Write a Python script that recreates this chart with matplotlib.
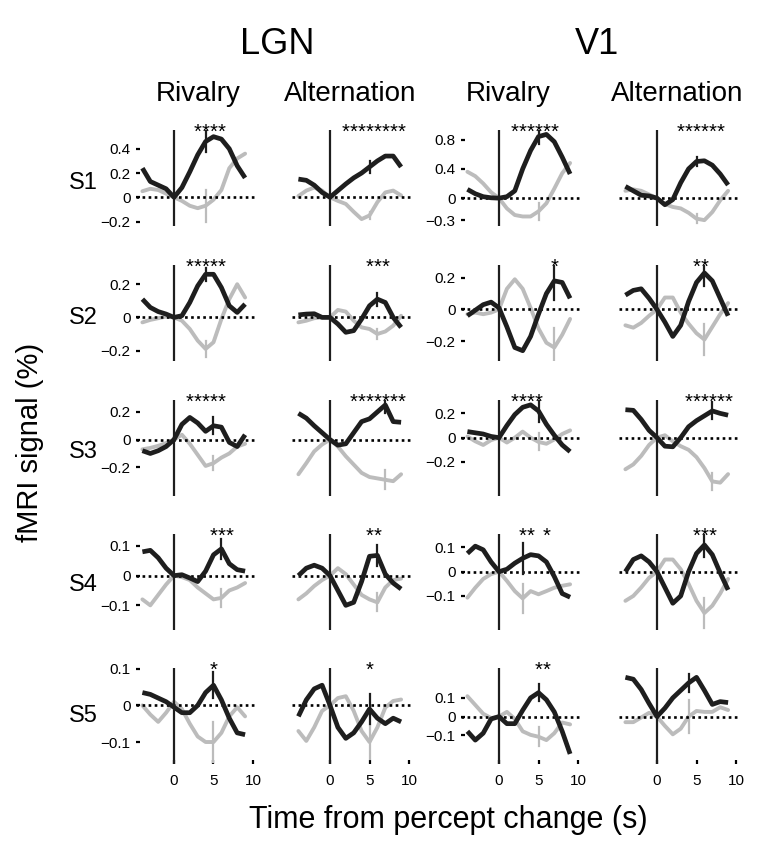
import numpy as np
import matplotlib
matplotlib.use('Agg')
import matplotlib.pyplot as plt

plt.rcParams['font.family'] = ['Liberation Sans', 'DejaVu Sans']

# ---------------- data ----------------
TIME = list(range(-4, 10))
SUBJECTS = ['S1', 'S2', 'S3', 'S4', 'S5']
AREAS = ['LGN', 'V1']
CONDITIONS = ['Rivalry', 'Alternation']

# black = response to the preferred percept, gray = the other
S1_LGN_RIV_K = [0.24, 0.13, 0.10, 0.07, 0.0, 0.08, 0.21, 0.35, 0.46, 0.50, 0.48, 0.40, 0.26, 0.16]
S1_LGN_RIV_G = [0.05, 0.07, 0.06, 0.03, 0.0, -0.03, -0.07, -0.09, -0.07, -0.02, 0.06, 0.24, 0.32, 0.36]
S1_LGN_ALT_K = [0.15, 0.14, 0.10, 0.04, 0.0, 0.055, 0.11, 0.16, 0.20, 0.25, 0.30, 0.34, 0.34, 0.25]
S1_LGN_ALT_G = [0.01, 0.055, 0.08, 0.055, 0.0, -0.03, -0.055, -0.12, -0.18, -0.15, -0.04, 0.04, 0.055, 0.015]
S1_V1_RIV_K = [0.12, 0.06, 0.02, 0.005, 0.0, 0.02, 0.10, 0.40, 0.65, 0.84, 0.87, 0.77, 0.56, 0.33]
S1_V1_RIV_G = [0.36, 0.30, 0.20, 0.08, 0.0, -0.14, -0.23, -0.25, -0.25, -0.18, -0.07, 0.13, 0.34, 0.48]
S1_V1_ALT_K = [0.16, 0.10, 0.04, 0.03, 0.0, -0.09, -0.02, 0.21, 0.40, 0.50, 0.51, 0.45, 0.33, 0.18]
S1_V1_ALT_G = [0.10, 0.12, 0.10, 0.05, 0.0, -0.08, -0.12, -0.14, -0.20, -0.28, -0.30, -0.19, -0.03, 0.10]

S2_LGN_RIV_K = [0.11, 0.06, 0.035, 0.02, 0.0, 0.01, 0.09, 0.19, 0.26, 0.26, 0.18, 0.07, 0.03, 0.08]
S2_LGN_RIV_G = [-0.03, -0.015, -0.005, 0.005, 0.0, -0.02, -0.07, -0.14, -0.19, -0.15, -0.01, 0.11, 0.20, 0.12]
S2_LGN_ALT_K = [0.015, 0.02, 0.022, 0.0, 0.0, -0.04, -0.09, -0.08, -0.01, 0.07, 0.11, 0.09, 0.0, -0.06]
S2_LGN_ALT_G = [-0.03, -0.02, -0.005, 0.0, 0.0, 0.045, 0.035, -0.02, -0.06, -0.07, -0.10, -0.085, -0.05, 0.01]
S2_V1_RIV_K = [-0.04, -0.005, 0.03, 0.046, 0.01, -0.11, -0.24, -0.26, -0.17, -0.03, 0.10, 0.18, 0.17, 0.07]
S2_V1_RIV_G = [-0.03, -0.02, -0.03, -0.02, 0.0, 0.13, 0.19, 0.13, 0.01, -0.12, -0.21, -0.24, -0.16, -0.06]
S2_V1_ALT_K = [0.09, 0.12, 0.13, 0.07, 0.0, -0.08, -0.17, -0.10, 0.05, 0.17, 0.23, 0.18, 0.07, -0.04]
S2_V1_ALT_G = [-0.10, -0.115, -0.085, -0.04, 0.0, 0.075, 0.075, -0.02, -0.09, -0.15, -0.19, -0.11, -0.03, 0.04]

S3_LGN_RIV_K = [-0.08, -0.10, -0.08, -0.05, 0.0, 0.11, 0.16, 0.12, 0.06, 0.10, 0.09, -0.02, -0.05, 0.035]
S3_LGN_RIV_G = [-0.07, -0.06, -0.045, -0.025, 0.0, 0.035, -0.03, -0.11, -0.19, -0.17, -0.13, -0.10, -0.05, -0.03]
S3_LGN_ALT_K = [0.19, 0.155, 0.10, 0.05, 0.0, -0.04, -0.03, 0.05, 0.13, 0.15, 0.20, 0.25, 0.13, 0.125]
S3_LGN_ALT_G = [-0.25, -0.17, -0.085, -0.035, 0.0, -0.05, -0.12, -0.18, -0.24, -0.27, -0.28, -0.29, -0.30, -0.25]
S3_V1_RIV_K = [0.05, 0.04, 0.03, 0.01, 0.0, 0.10, 0.19, 0.25, 0.27, 0.22, 0.11, 0.02, -0.06, -0.115]
S3_V1_RIV_G = [0.01, -0.03, -0.06, -0.02, 0.0, -0.04, 0.0, 0.05, 0.0, -0.035, -0.05, -0.015, 0.03, 0.06]
S3_V1_ALT_K = [0.23, 0.225, 0.15, 0.06, 0.0, -0.07, -0.075, 0.0, 0.09, 0.14, 0.18, 0.22, 0.20, 0.185]
S3_V1_ALT_G = [-0.26, -0.22, -0.15, -0.06, 0.0, 0.02, -0.03, -0.07, -0.10, -0.16, -0.25, -0.36, -0.37, -0.30]

S4_LGN_RIV_K = [0.08, 0.085, 0.06, 0.025, 0.0, 0.003, -0.008, -0.02, 0.015, 0.07, 0.09, 0.04, 0.02, 0.015]
S4_LGN_RIV_G = [-0.08, -0.10, -0.065, -0.03, 0.0, -0.005, -0.015, -0.04, -0.06, -0.08, -0.075, -0.05, -0.04, -0.025]
S4_LGN_ALT_K = [0.0, 0.025, 0.035, 0.025, 0.0, -0.05, -0.10, -0.09, -0.02, 0.065, 0.068, 0.005, -0.025, -0.045]
S4_LGN_ALT_G = [-0.08, -0.06, -0.035, -0.015, 0.0, 0.025, 0.005, -0.03, -0.065, -0.08, -0.09, -0.04, -0.015, -0.01]
S4_V1_RIV_K = [0.075, 0.105, 0.09, 0.04, 0.0, 0.01, 0.035, 0.055, 0.07, 0.065, 0.04, -0.02, -0.09, -0.105]
S4_V1_RIV_G = [-0.107, -0.066, -0.03, -0.01, 0.0, -0.038, -0.08, -0.11, -0.08, -0.093, -0.08, -0.066, -0.058, -0.052]
S4_V1_ALT_K = [0.0, 0.05, 0.065, 0.04, 0.0, -0.065, -0.13, -0.10, 0.0, 0.075, 0.11, 0.07, -0.005, -0.075]
S4_V1_ALT_G = [-0.12, -0.10, -0.065, -0.025, 0.0, 0.05, 0.05, 0.01, -0.05, -0.12, -0.17, -0.14, -0.09, -0.03]

S5_LGN_RIV_K = [0.035, 0.03, 0.02, 0.01, -0.005, -0.02, -0.02, 0.0, 0.035, 0.055, 0.015, -0.035, -0.075, -0.08]
S5_LGN_RIV_G = [0.0, -0.025, -0.045, -0.02, 0.01, -0.01, -0.05, -0.085, -0.10, -0.10, -0.075, -0.03, -0.005, -0.03]
S5_LGN_ALT_K = [-0.03, 0.015, 0.045, 0.055, 0.0, -0.06, -0.09, -0.075, -0.045, -0.01, -0.035, -0.05, -0.035, -0.045]
S5_LGN_ALT_G = [-0.07, -0.097, -0.06, -0.015, 0.0, 0.02, 0.025, -0.015, -0.07, -0.10, -0.06, -0.006, 0.012, 0.016]
S5_V1_RIV_K = [-0.079, -0.126, -0.089, -0.013, 0.0, -0.038, -0.038, 0.034, 0.10, 0.128, 0.09, 0.025, -0.079, -0.2]
S5_V1_RIV_G = [0.109, 0.062, 0.015, -0.008, 0.0, 0.025, -0.013, -0.079, -0.098, -0.108, -0.126, -0.089, -0.032, -0.042]
S5_V1_ALT_K = [0.21, 0.20, 0.145, 0.07, 0.0, 0.045, 0.10, 0.14, 0.18, 0.21, 0.14, 0.065, 0.08, 0.075]
S5_V1_ALT_G = [-0.03, -0.03, -0.005, 0.02, 0.0, -0.05, -0.095, -0.065, 0.0, 0.03, 0.025, 0.025, 0.05, 0.035]

# time of the single error bar per panel, and half-lengths (black, gray)
ERR_TIME = [[4, 5, 5, 5], [4, 6, 7, 6], [5, 7, 5, 7], [6, 6, 3, 6], [5, 5, 5, 4]]
ERR_BLACK = [[0.09, 0.05, 0.10, 0.06], [0.04, 0.04, 0.12, 0.08], [0.06, 0.06, 0.09, 0.07],
             [0.033, 0.036, 0.065, 0.05], [0.035, 0.04, 0.045, 0.05]]
ERR_GRAY = [[0.13, 0.03, 0.12, 0.06], [0.05, 0.03, 0.12, 0.10], [0.05, 0.07, 0.07, 0.07],
            [0.03, 0.03, 0.06, 0.06], [0.055, 0.045, 0.05, 0.09]]

# significance stars (one per significant time point)
STARS = [
    [[3, 4, 5, 6], [2, 3, 4, 5, 6, 7, 8, 9], [2, 3, 4, 5, 6, 7], [3, 4, 5, 6, 7, 8]],
    [[2, 3, 4, 5, 6], [5, 6, 7], [7], [5, 6]],
    [[2, 3, 4, 5, 6], [3, 4, 5, 6, 7, 8, 9], [2, 3, 4, 5], [4, 5, 6, 7, 8, 9]],
    [[5, 6, 7], [5, 6], [3, 4, 6], [5, 6, 7]],
    [[5], [5], [5, 6], []],
]

# y ranges and ticks per row (LGN, V1)
YLIM_LGN = [(-0.237, 0.555), (-0.263, 0.316), (-0.407, 0.286), (-0.183, 0.14), (-0.16, 0.102)]
YLIM_V1 = [(-0.38, 0.93), (-0.325, 0.28), (-0.48, 0.31), (-0.24, 0.155), (-0.254, 0.26)]
YTICKS_LGN = [[-0.2, 0, 0.2, 0.4], [-0.2, 0, 0.2], [-0.2, 0, 0.2], [-0.1, 0, 0.1], [-0.1, 0, 0.1]]
YTICKS_V1 = [[-0.3, 0, 0.4, 0.8], [-0.2, 0, 0.2], [-0.2, 0, 0.2], [-0.1, 0, 0.1], [-0.1, 0, 0.1]]
XTICKS = [0, 5, 10]

BLACK_SERIES = [
    [S1_LGN_RIV_K, S1_LGN_ALT_K, S1_V1_RIV_K, S1_V1_ALT_K],
    [S2_LGN_RIV_K, S2_LGN_ALT_K, S2_V1_RIV_K, S2_V1_ALT_K],
    [S3_LGN_RIV_K, S3_LGN_ALT_K, S3_V1_RIV_K, S3_V1_ALT_K],
    [S4_LGN_RIV_K, S4_LGN_ALT_K, S4_V1_RIV_K, S4_V1_ALT_K],
    [S5_LGN_RIV_K, S5_LGN_ALT_K, S5_V1_RIV_K, S5_V1_ALT_K],
]
GRAY_SERIES = [
    [S1_LGN_RIV_G, S1_LGN_ALT_G, S1_V1_RIV_G, S1_V1_ALT_G],
    [S2_LGN_RIV_G, S2_LGN_ALT_G, S2_V1_RIV_G, S2_V1_ALT_G],
    [S3_LGN_RIV_G, S3_LGN_ALT_G, S3_V1_RIV_G, S3_V1_ALT_G],
    [S4_LGN_RIV_G, S4_LGN_ALT_G, S4_V1_RIV_G, S4_V1_ALT_G],
    [S5_LGN_RIV_G, S5_LGN_ALT_G, S5_V1_RIV_G, S5_V1_ALT_G],
]

# ---------------- layout (pixels) ----------------
W, H = 764, 847
fig = plt.figure(figsize=(W / 100, H / 100), dpi=100)

PX_PER_S = 7.9
XLIM = (-4.8, 10.4)
COL_ZERO = [174, 330, 499, 657]
ROW_TOP = [130, 265, 400, 534, 668]
AX_H = 96
AX_W = (XLIM[1] - XLIM[0]) * PX_PER_S

K_COL = '#1e1e1e'
G_COL = '#bcbcbc'


def fmt(v):
    if v == 0:
        return '0'
    s = f'{abs(v):.1f}'
    return ('\u2212' if v < 0 else '') + s


for r in range(5):
    for c in range(4):
        left = COL_ZERO[c] + XLIM[0] * PX_PER_S
        bottom = H - (ROW_TOP[r] + AX_H)
        ax = fig.add_axes([left / W, bottom / H, AX_W / W, AX_H / H])
        ax.set_xlim(*XLIM)
        ylim = YLIM_LGN[r] if c < 2 else YLIM_V1[r]
        ax.set_ylim(*ylim)
        for sp in ax.spines.values():
            sp.set_visible(False)
        ax.patch.set_alpha(0)

        t = np.array(TIME)
        k = np.array(BLACK_SERIES[r][c])
        g = np.array(GRAY_SERIES[r][c])
        te = ERR_TIME[r][c]
        idx = TIME.index(te)

        ax.plot(t, g, color=G_COL, lw=2.8, zorder=2, solid_joinstyle='round', solid_capstyle='round')
        ax.plot([te, te], [g[idx] - ERR_GRAY[r][c], g[idx] + ERR_GRAY[r][c]],
                color=G_COL, lw=1.6, zorder=2.5)
        ax.axhline(0, color='k', lw=1.9, ls=(0, (1, 1.3)), zorder=3)
        ax.axvline(0, color=K_COL, lw=1.6, zorder=3)
        ax.plot(t, k, color=K_COL, lw=3.4, zorder=4, solid_joinstyle='round', solid_capstyle='butt')
        ax.plot([te, te], [k[idx] - ERR_BLACK[r][c], k[idx] + ERR_BLACK[r][c]],
                color=K_COL, lw=1.6, zorder=5)

        ystar = 1 - 8.0 / AX_H
        for s in STARS[r][c]:
            ax.text(s, ystar, '*', transform=ax.get_xaxis_transform(), ha='center',
                    va='baseline', fontsize=14.5, color='k', clip_on=False)

        # y ticks
        if c in (0, 2):
            ticks = YTICKS_LGN[r] if c == 0 else YTICKS_V1[r]
            ax.set_yticks(ticks)
            ax.set_yticklabels([fmt(v) for v in ticks])
            ax.tick_params(axis='y', direction='in', length=3, width=1.6, pad=4,
                           labelsize=11, colors='k')
        else:
            ax.set_yticks([])
        # x ticks
        if r == 4:
            ax.set_xticks(XTICKS)
            ax.set_xticklabels([str(v) for v in XTICKS])
            ax.tick_params(axis='x', direction='in', length=3, width=1.6, pad=7,
                           labelsize=11, colors='k')
        else:
            ax.set_xticks([])

# ---------------- texts ----------------
def ftext(x, y, s, **kw):
    fig.text(x / W, 1 - y / H, s, ha='center', va='center', **kw)

ftext(277, 45, AREAS[0], fontsize=26)
ftext(597, 45, AREAS[1], fontsize=26)
ftext(198, 94, CONDITIONS[0], fontsize=20)
ftext(350, 94, CONDITIONS[1], fontsize=20)
ftext(508, 94, CONDITIONS[0], fontsize=20)
ftext(677, 94, CONDITIONS[1], fontsize=20)

for r, s in enumerate(SUBJECTS):
    ftext(83, [183, 318, 452, 585, 716][r], s, fontsize=17)

ftext(30, 442, 'fMRI signal (%)', fontsize=21, rotation=90)
ftext(448, 820, 'Time from percept change (s)', fontsize=22)

fig.savefig('out.png', dpi=100, facecolor='white')
